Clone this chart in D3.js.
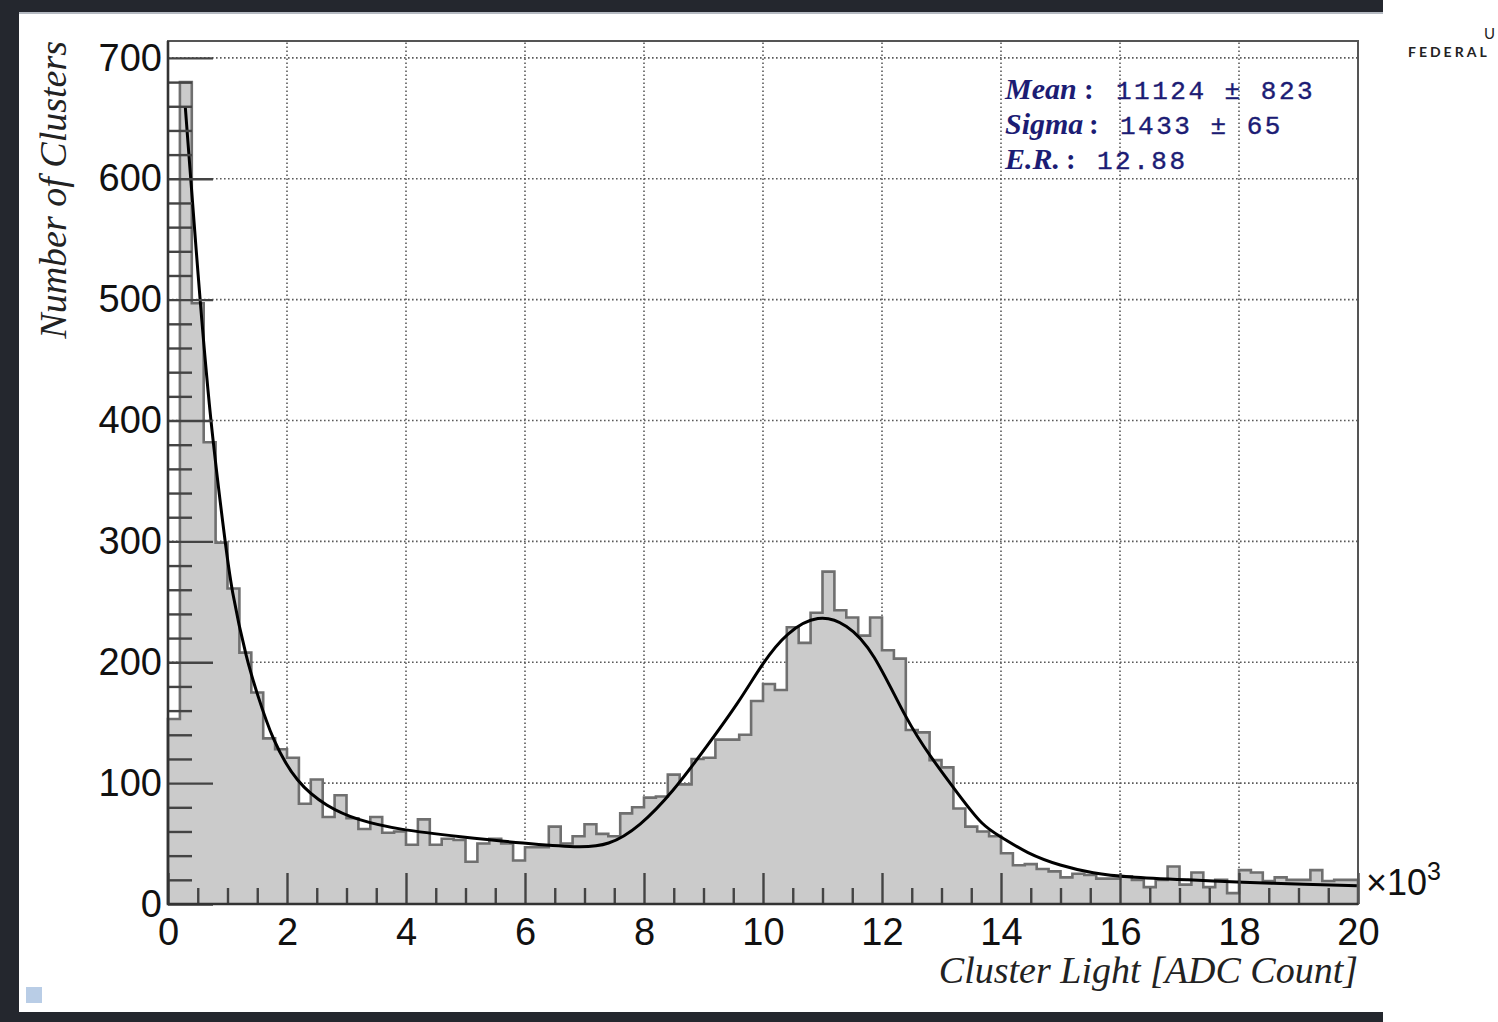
<!DOCTYPE html>
<html>
<head>
<meta charset="utf-8">
<script src="https://cdn.jsdelivr.net/npm/d3@7"></script>
<style>
  body { margin: 0; background: #fff; }
  svg { display: block; }
</style>
</head>
<body>
<div id="chart"></div>
<script>
// histogram: 100 bins of 200 ADC counts (x axis in units of 10^3)
const binStart = 0;
const binWidth = 0.2;
const counts = [
  153, 680, 497, 382, 299, 261, 208, 175, 137, 128,
  121, 83, 103, 72, 90, 71, 62, 72, 59, 60,
  49, 70, 49, 54, 53, 35, 50, 54, 50, 36,
  47, 47, 64, 50, 56, 66, 58, 56, 75, 80,
  88, 89, 107, 99, 120, 121, 136, 136, 140, 168,
  182, 177, 229, 216, 241, 275, 243, 237, 222, 237,
  210, 203, 144, 142, 119, 113, 79, 64, 60, 56,
  42, 32, 33, 29, 27, 22, 25, 24, 21, 21,
  23, 20, 14, 20, 31, 16, 26, 14, 20, 9,
  28, 26, 19, 22, 20, 20, 28, 19, 20, 20
];

// fit curve, points
const fitX = [0.29, 0.51, 0.71, 0.96, 1.06, 1.33, 1.5, 1.75, 2.16, 2.67, 3.17, 3.9, 4.9,
  6.0, 6.9, 7.4, 7.93, 8.49, 9.05, 9.61, 10.0, 10.4, 10.93, 11.41, 11.85, 12.41, 12.81,
  13.31, 13.7, 14.0, 14.43, 15.0, 15.55, 16.1, 17.18, 18.02, 19.14, 19.98];
const fitY = [660, 516, 399, 300, 261, 200, 174, 136, 100, 80.5, 69.5, 61.3, 55.7,
  50, 46.6, 48, 64, 93, 130, 168, 200, 225, 240, 232, 210, 152, 122,
  89, 64, 55.7, 42, 31.5, 25.4, 22.3, 19.9, 18, 16.3, 15.2];

const xTicks = [0, 2, 4, 6, 8, 10, 12, 14, 16, 18, 20];
const yTicks = [0, 100, 200, 300, 400, 500, 600, 700];
const statLabels = ["Mean", "Sigma", "E.R."];
const statValues = ["11124 \u00b1 823", "1433 \u00b1 65", "12.88"];

const W = 1498, H = 1022;
const frame = { left: 168, right: 1358, top: 41, bottom: 904 };

const svg = d3.select("#chart").append("svg")
  .attr("width", W).attr("height", H);

// screenshot border
svg.append("rect").attr("x", 0).attr("y", 0).attr("width", 1383).attr("height", H).attr("fill", "#24272e");
svg.append("rect").attr("x", 19).attr("y", 12).attr("width", 1383 - 19).attr("height", 1000).attr("fill", "#fff");
svg.append("rect").attr("x", 19).attr("y", 12).attr("width", 1383 - 19).attr("height", 2).attr("fill", "#b5bac2");
svg.append("rect").attr("x", 26).attr("y", 987).attr("width", 16).attr("height", 16).attr("fill", "#b9cde6");

// logo text at the right
svg.append("text").attr("x", 1484).attr("y", 39)
  .attr("font-family", "Lato, sans-serif").attr("font-size", 15).attr("fill", "#222").text("U");
svg.append("text").attr("x", 1408).attr("y", 57)
  .attr("font-family", "Lato, sans-serif").attr("font-size", 14).attr("font-weight", 700)
  .attr("letter-spacing", 3).attr("fill", "#222").text("FEDERAL");

const x = d3.scaleLinear().domain([0, 20]).range([frame.left, frame.right]);
const y = d3.scaleLinear().domain([0, 714]).range([frame.bottom, frame.top]);

// grid
const grid = svg.append("g").attr("stroke", "#5a5a5a").attr("stroke-width", 1.6).attr("stroke-dasharray", "1.6,2.4");
grid.selectAll(".gx").data(xTicks.filter(d => d > 0 && d < 20)).enter().append("line")
  .attr("x1", d => x(d)).attr("x2", d => x(d))
  .attr("y1", frame.bottom).attr("y2", frame.top);
grid.selectAll(".gy").data(yTicks.filter(d => d > 0)).enter().append("line")
  .attr("x1", frame.left).attr("x2", frame.right)
  .attr("y1", d => y(d)).attr("y2", d => y(d));

// histogram
const steps = counts.map((c, i) => ({ e: binStart + i * binWidth, c: c }));
steps.push({ e: binStart + counts.length * binWidth, c: counts[counts.length - 1] });

svg.append("path")
  .datum(steps)
  .attr("fill", "#cbcbcb")
  .attr("d", d3.area().curve(d3.curveStepAfter).x(d => x(d.e)).y0(y(0)).y1(d => y(d.c)));

const outline = [{ e: 0, c: 0 }].concat(steps, [{ e: 20, c: 0 }]);
svg.append("path")
  .datum(outline)
  .attr("fill", "none")
  .attr("stroke", "#6f6f6f")
  .attr("stroke-width", 2.6)
  .attr("d", d3.line().curve(d3.curveStepAfter).x(d => x(d.e)).y(d => y(d.c)));

// fit
svg.append("path")
  .datum(fitX.map((v, i) => [v, fitY[i]]))
  .attr("fill", "none")
  .attr("stroke", "#000")
  .attr("stroke-width", 3)
  .attr("d", d3.line().curve(d3.curveBasis).x(d => x(d[0])).y(d => y(d[1])));

// axes
const tickFont = "'Liberation Sans', Arial, sans-serif";

const yAxis = svg.append("g").attr("transform", `translate(${frame.left},0)`)
  .call(d3.axisLeft(y).tickValues(yTicks).tickSize(-45).tickPadding(6).tickSizeOuter(0));
const yMinor = svg.append("g").attr("transform", `translate(${frame.left},0)`)
  .call(d3.axisLeft(y).tickValues(d3.range(0, 714, 20).filter(v => v % 100 !== 0)).tickSize(-24).tickFormat("").tickSizeOuter(0));

const xAxis = svg.append("g").attr("transform", `translate(0,${frame.bottom})`)
  .call(d3.axisBottom(x).tickValues(xTicks).tickSize(-31).tickPadding(14).tickSizeOuter(0));
const xMinor = svg.append("g").attr("transform", `translate(0,${frame.bottom})`)
  .call(d3.axisBottom(x).tickValues(d3.range(0.5, 20, 0.5).filter(v => v % 2 !== 0)).tickSize(-16).tickFormat("").tickSizeOuter(0));

[yAxis, yMinor, xAxis, xMinor].forEach(g => {
  g.select(".domain").remove();
  g.selectAll(".tick line").attr("stroke", "#444").attr("stroke-width", 2.4);
  g.selectAll("text").attr("font-family", tickFont).attr("font-size", 38).attr("fill", "#111");
});

// frame
svg.append("rect")
  .attr("x", frame.left).attr("y", frame.top)
  .attr("width", frame.right - frame.left).attr("height", frame.bottom - frame.top)
  .attr("fill", "none").attr("stroke", "#555").attr("stroke-width", 2);
svg.append("path")
  .attr("d", `M${frame.left},${frame.top}V${frame.bottom}H${frame.right}`)
  .attr("fill", "none").attr("stroke", "#333").attr("stroke-width", 2.6);

// exponent label
const expo = svg.append("text").attr("x", 1366).attr("y", 895)
  .attr("font-family", tickFont).attr("font-size", 36).attr("fill", "#111");
expo.append("tspan").text("\u00d710");
expo.append("tspan").attr("font-size", 25).attr("dy", -15).text("3");

// axis titles
svg.append("text")
  .attr("x", frame.right).attr("y", 983)
  .attr("text-anchor", "end")
  .attr("font-family", "'Liberation Serif', 'Times New Roman', serif")
  .attr("font-style", "italic").attr("font-size", 38).attr("fill", "#222")
  .text("Cluster Light [ADC Count]");

svg.append("text")
  .attr("transform", `translate(66,${frame.top}) rotate(-90)`)
  .attr("text-anchor", "end")
  .attr("font-family", "'Liberation Serif', 'Times New Roman', serif")
  .attr("font-style", "italic").attr("font-size", 38).attr("fill", "#222")
  .text("Number of Clusters");

// stats box
const statColor = "#1c1c74";
const colonX = [1084, 1089, 1066];
const valueX = [1116, 1120, 1097];
statLabels.forEach((s, i) => {
  const by = 99 + i * 35;
  svg.append("text").attr("x", 1005).attr("y", by)
    .attr("font-family", "'Liberation Serif', 'Times New Roman', serif")
    .attr("font-style", "italic").attr("font-weight", 700)
    .attr("font-size", 30).attr("fill", statColor).text(s);
  svg.append("text").attr("x", colonX[i]).attr("y", by)
    .attr("font-family", "'Liberation Serif', serif").attr("font-weight", 700)
    .attr("font-size", 29).attr("fill", statColor).text(":");
  svg.append("text").attr("x", valueX[i]).attr("y", by)
    .attr("font-family", "'Liberation Mono', 'Courier New', monospace")
    .attr("font-size", 26).attr("letter-spacing", 2.5)
    .attr("stroke", statColor).attr("stroke-width", 0.4)
    .attr("fill", statColor).text(statValues[i]);
});
</script>
</body>
</html>
